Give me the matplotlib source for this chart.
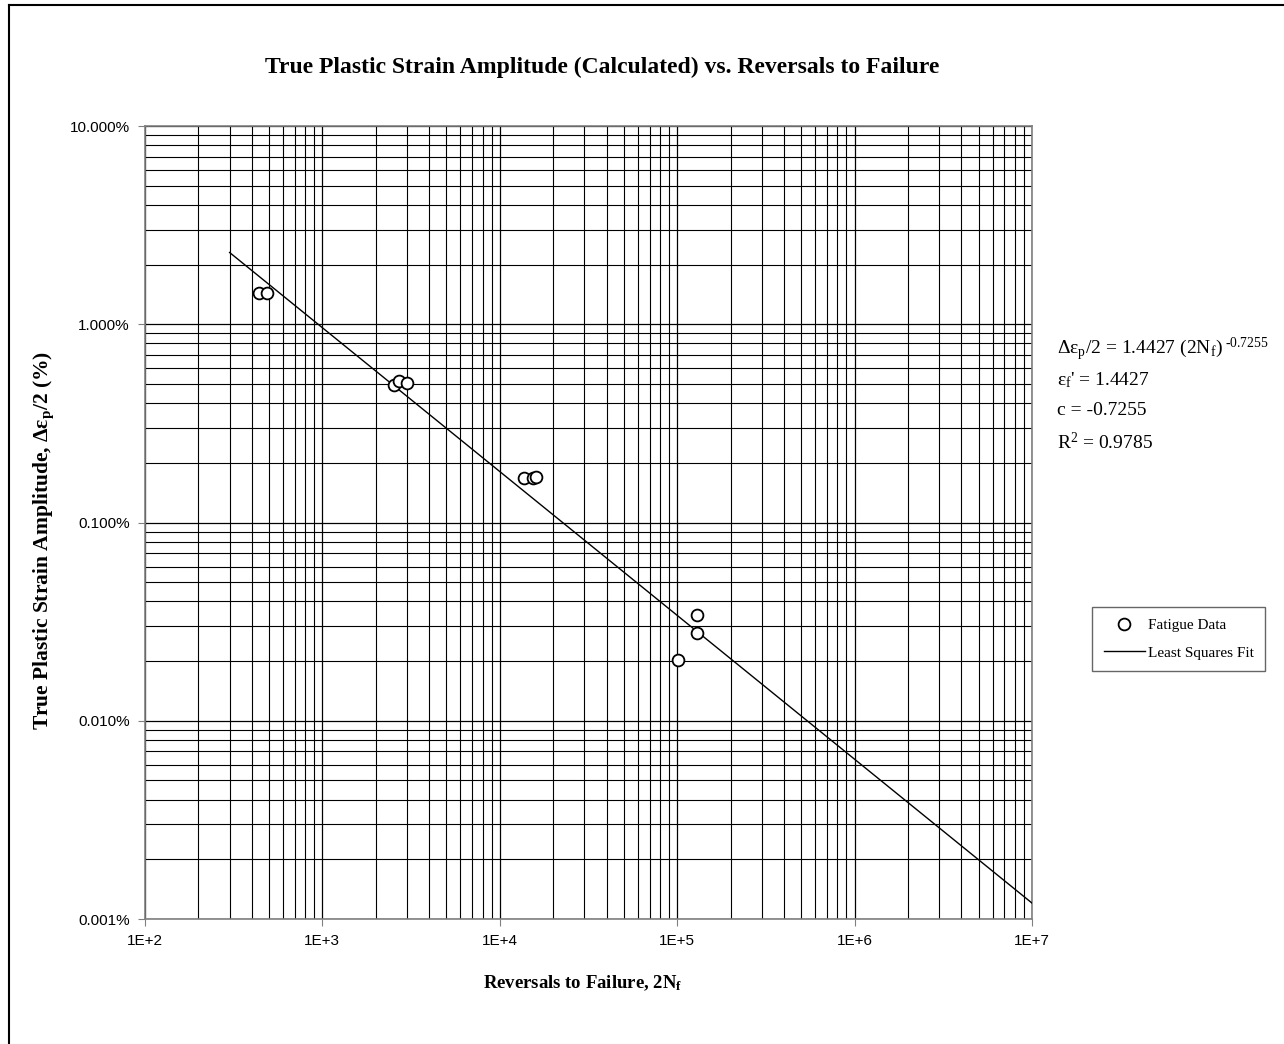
import matplotlib
matplotlib.use('Agg')
import matplotlib.pyplot as plt
import numpy as np
from matplotlib.ticker import FuncFormatter, LogLocator, NullFormatter
from matplotlib.lines import Line2D

plt.rcParams['mathtext.fontset'] = 'custom'
plt.rcParams['mathtext.rm'] = 'Liberation Serif'
plt.rcParams['mathtext.it'] = 'Liberation Serif:italic'
plt.rcParams['mathtext.bf'] = 'Liberation Serif:bold'

# Fatigue data (reversals to failure, true plastic strain amplitude as fraction)
reversals = [439, 488, 2535, 2705, 2998, 13680, 15380, 16000, 101000, 129400, 129400]
strain_amp = [0.01438, 0.01438, 0.00494, 0.00517, 0.00506, 0.001676, 0.001676, 0.001695,
              0.000202, 0.000341, 0.000277]

# Least squares fit coefficients
eps_f = 1.4427
c_exp = -0.7255
r2 = 0.9785
fit_range = [300, 1e7]

fig = plt.figure(figsize=(12.84, 10.44), dpi=100)
ax = fig.add_axes([0.1129, 0.1197, 0.6908, 0.7596])

ax.set_xscale('log')
ax.set_yscale('log')
ax.set_xlim(1e2, 1e7)
ax.set_ylim(1e-5, 1e-1)

# grid
ax.xaxis.set_minor_locator(LogLocator(base=10, subs=np.arange(2, 10)))
ax.yaxis.set_minor_locator(LogLocator(base=10, subs=np.arange(2, 10)))
ax.xaxis.set_minor_formatter(NullFormatter())
ax.yaxis.set_minor_formatter(NullFormatter())
ax.grid(True, which='major', color='black', lw=0.9)
ax.grid(True, which='minor', color='black', lw=0.8)
ax.set_axisbelow(True)

# fit line
x_fit = np.logspace(np.log10(fit_range[0]), np.log10(fit_range[1]), 200)
fit_line, = ax.plot(x_fit, eps_f * x_fit ** c_exp, color='black', lw=1.0,
                    label='Least Squares Fit', zorder=3)

# data
data_pts, = ax.plot(reversals, strain_amp, 'o', ms=8.5, mfc='white', mec='black', mew=1.3,
                    label='Fatigue Data', zorder=4)

ax.xaxis.set_major_formatter(FuncFormatter(lambda v, p: '1E+%d' % round(np.log10(v))))
ax.yaxis.set_major_formatter(FuncFormatter(lambda v, p: '%.3f%%' % (v * 100)))
for lab in ax.get_xticklabels() + ax.get_yticklabels():
    lab.set_fontfamily('Liberation Sans')
    lab.set_fontsize(11)
ax.tick_params(which='major', length=5, color='#808080', labelsize=11, pad=6)
ax.tick_params(which='minor', length=0)
for s in ax.spines.values():
    s.set_color('#808080')
    s.set_linewidth(1.2)

ax.set_title('True Plastic Strain Amplitude (Calculated) vs. Reversals to Failure',
             fontfamily='Liberation Serif', fontweight='bold', fontsize=17, pad=38, x=0.515)
ax.set_xlabel('Reversals to Failure, 2N$_\\mathbf{f}$', fontfamily='Liberation Serif',
              fontweight='bold', fontsize=13.5)
ax.xaxis.set_label_coords(0.494, -0.069)
ax.set_ylabel('True Plastic Strain Amplitude, $\\mathbf{\\Delta}$\u03b5$_\\mathbf{p}$/2 (%)',
              fontfamily='Liberation Serif', fontweight='bold', fontsize=15.5)
ax.yaxis.set_label_coords(-0.1, 0.477)

# equation annotation
eq_lines = [
    '\u0394\u03b5$_\\mathrm{p}$/2 = %.4f (2N$_\\mathrm{f}$)$^{\\text{ %.4f}}$' % (eps_f, c_exp),
    "\u03b5$_\\mathrm{f}$' = %.4f" % eps_f,
    'c = %.4f' % c_exp,
    'R$^\\mathrm{2}$ = %.4f' % r2,
]
ys = [0.665, 0.636, 0.607, 0.576]
for t, y in zip(eq_lines, ys):
    fig.text(0.823, y, t, fontfamily='Liberation Serif', fontsize=14, va='center')

leg = fig.legend([data_pts, fit_line], ['Fatigue Data', 'Least Squares Fit'],
                 loc='upper left', bbox_to_anchor=(0.8505, 0.4186), borderaxespad=0,
                 frameon=True, prop={'family': 'Liberation Serif', 'size': 11}, fancybox=False,
                 handlelength=2.7, borderpad=0.75, labelspacing=0.9, handletextpad=0.2)
leg.get_frame().set_edgecolor('#404040')
leg.get_frame().set_linewidth(1.0)

# figure border (left and top visible)
fig.add_artist(Line2D([9 / 1284, 9 / 1284], [0, 1 - 5 / 1044], color='black', lw=1.5))
fig.add_artist(Line2D([9 / 1284, 1], [1 - 5 / 1044, 1 - 5 / 1044], color='black', lw=1.5))

fig.savefig('out.png', dpi=100)
